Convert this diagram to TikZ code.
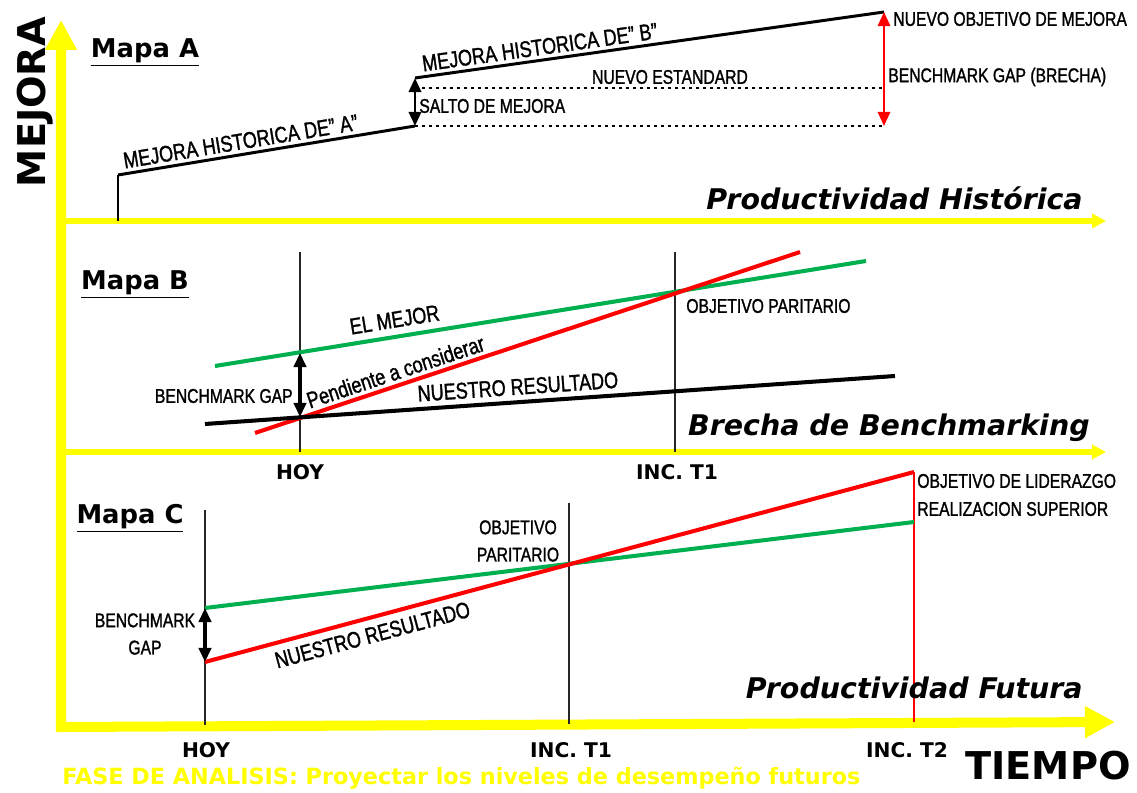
\documentclass[tikz,border=0pt]{standalone}
\usepackage{fontspec}
\setmainfont{DejaVu Sans}
\newfontfamily\narrowfont[FakeStretch=0.79, FakeBold=1.3]{Liberation Sans}
\usetikzlibrary{arrows.meta, positioning, calc}

\definecolor{axisyellow}{RGB}{255,255,0}
\definecolor{bestgreen}{RGB}{0,176,80}

\tikzset{
  lbl/.style={font=\narrowfont\fontsize{11.3}{13.5}\selectfont, inner sep=0pt},
  biglbl/.style={font=\narrowfont\fontsize{13}{15}\selectfont, inner sep=1pt},
  mapa/.style={font=\bfseries\fontsize{14.7}{17}\selectfont, inner sep=0pt},
  axtitle/.style={font=\bfseries\itshape\fontsize{16.2}{19}\selectfont, inner sep=0pt, anchor=east},
  ticklbl/.style={font=\bfseries\fontsize{11.5}{13}\selectfont, inner sep=0pt},
  mainaxis/.style={line width=5.7pt, axisyellow, {Triangle[length=0.6cm, width=0.6cm]}-{Triangle[length=0.6cm, width=0.6cm]}},
  subaxis/.style={line width=3.4pt, axisyellow, -{Triangle[length=0.28cm, width=0.28cm]}},
  histline/.style={line width=1.7pt, black},
  dotline/.style={line width=1.7pt, dash pattern=on 1.7pt off 2.3pt},
  gaparrow/.style={line width=1.8pt, {Triangle[length=8pt, width=7pt]}-{Triangle[length=8pt, width=7pt]}},
  timeline/.style={line width=0.85pt, black!85},
  trend/.style={line width=2.3pt}
}

\begin{document}
\begin{tikzpicture}[x=0.02cm, y=-0.02cm]
  \useasboundingbox (0,0) rectangle (1137,793);

  % Yellow axes of the three maps
  \coordinate (top) at (61,20);
  \coordinate (origin) at (61,727);
  \coordinate (tend) at (1115,722);
  \draw[mainaxis] (top) -- (origin) -- (tend);
  \draw[subaxis] (61,221) -- (1106,221);
  \draw[subaxis] (61,452) -- (1106,452);

  \node[rotate=90, font=\bfseries\fontsize{21.8}{24}\selectfont, inner sep=0pt] (mejora) at (35,102) {MEJORA};
  \node[font=\bfseries\fontsize{21.8}{24}\selectfont, inner sep=0pt] (tiempo) at (1048,766) {TIEMPO};
  \node[anchor=west, text=axisyellow, font=\bfseries\fontsize{12.7}{15}\selectfont, inner sep=0pt] (fase) at (62,778)
    {FASE DE ANALISIS: Proyectar los niveles de desempeño futuros};

  % Mapa A: historical productivity
  \node[mapa] (mapaA) at (145,53) {\underline{Mapa A}};
  \coordinate (a0) at (118,221);
  \coordinate (a1) at (118,175);
  \coordinate (a2) at (415,126);
  \coordinate (b1) at (415,78);
  \coordinate (b2) at (884,12);
  \coordinate (s1) at (415,88);
  \coordinate (s2) at (884,88);
  \coordinate (g1) at (884,126);
  \draw[line width=1pt] (a0) -- (a1);
  \draw[histline] (a1) -- (a2) node[pos=0.42, sloped, above=1pt, biglbl] (histA) {MEJORA HISTORICA DE” A”};
  \draw[histline] (b1) -- (b2) node[pos=0.27, sloped, above=1pt, biglbl] (histB) {MEJORA HISTORICA DE” B”};
  \draw[dotline] (s1) -- (s2);
  \draw[dotline] (a2) -- (g1);
  \draw[gaparrow, line width=1.5pt] (a2) -- (b1);
  \draw[gaparrow, red, line width=1.2pt] (g1) -- (b2);
  \node[lbl] (estandar) at (670,77) {NUEVO ESTANDARD};
  \node[lbl, anchor=west] (salto) at (419,106) {SALTO DE MEJORA};
  \node[lbl, anchor=west] (nuevo) at (893,19) {NUEVO OBJETIVO DE MEJORA};
  \node[lbl, anchor=west] (brecha) at (888,77) {BENCHMARK GAP (BRECHA)};
  \node[axtitle] (histTitle) at (1083,198) {Productividad Histórica};

  % Mapa B: benchmarking gap
  \node[mapa] (mapaB) at (135,285) {\underline{Mapa B}};
  \draw[timeline] (300,252) -- (300,452);
  \draw[timeline] (675,252) -- (675,452);
  \draw[trend, bestgreen] (215,366) -- (866,261) node[pos=0.28, sloped, above=3pt, biglbl, black] (mejor) {EL MEJOR};
  \draw[trend, red] (255,433) -- (800,252) node[pos=0.266, sloped, above=1pt, biglbl, black] (pendiente) {Pendiente a considerar};
  \draw[trend, black] (205,424) -- (895,376) node[pos=0.455, sloped, above=2pt, biglbl] (nuestroB) {NUESTRO RESULTADO};
  \coordinate (gapB1) at (300,353);
  \coordinate (gapB2) at (300,417);
  \draw[gaparrow] (gapB1) -- (gapB2);
  \node[lbl, anchor=east] (gapB) at (293,396) {BENCHMARK GAP};
  \node[lbl, anchor=west] (paritB) at (686,306) {OBJETIVO PARITARIO};
  \node[axtitle] (brechaTitle) at (1090,428) {Brecha de Benchmarking};
  \node[ticklbl] (hoyB) at (300,472) {HOY};
  \node[ticklbl] (incB) at (677,472) {INC. T1};

  % Mapa C: future productivity
  \node[mapa] (mapaC) at (130,518) {\underline{Mapa C}};
  \draw[timeline] (205,510) -- (205,725);
  \draw[timeline] (569,503) -- (569,724);
  \draw[red, line width=0.7pt] (914,472) -- (914,722);
  \draw[trend, bestgreen] (205,608) -- (914,522);
  \draw[trend, red] (205,662) -- (914,472) node[pos=0.23, sloped, below=3pt, biglbl, black] (nuestroC) {NUESTRO RESULTADO};
  \coordinate (gapC1) at (205,608);
  \coordinate (gapC2) at (205,662);
  \draw[gaparrow] (gapC1) -- (gapC2);
  \node[lbl, align=center] (gapC) at (145,634) {BENCHMARK\\[2pt]GAP};
  \node[lbl, align=center] (paritC) at (518,541) {OBJETIVO\\[2pt]PARITARIO};
  \node[lbl, anchor=west] (lider) at (917,481) {OBJETIVO DE LIDERAZGO};
  \node[lbl, anchor=west] (superior) at (917,509) {REALIZACION SUPERIOR};
  \node[axtitle] (futTitle) at (1083,688) {Productividad Futura};
  \node[ticklbl] (hoyC) at (206,750) {HOY};
  \node[ticklbl] (incC1) at (571,750) {INC. T1};
  \node[ticklbl] (incC2) at (907,750) {INC. T2};
\end{tikzpicture}
\end{document}
